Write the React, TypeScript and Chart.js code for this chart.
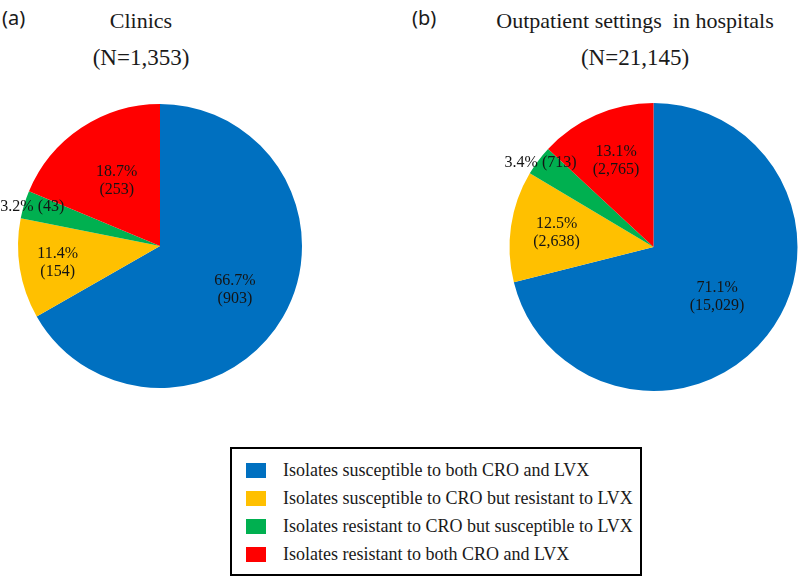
import React, { useEffect, useRef } from "react";
import { Chart, registerables } from "chart.js";

Chart.register(...registerables);

// ---------- data ----------
const CATEGORIES = [
  "Isolates susceptible to both CRO and LVX",
  "Isolates susceptible to CRO but resistant to LVX",
  "Isolates resistant to CRO but susceptible to LVX",
  "Isolates resistant to both CRO and LVX",
];
const CLINIC_COUNTS = [903, 154, 43, 253];
const HOSPITAL_COUNTS = [15029, 2638, 713, 2765];
const PANEL_TAGS = ["(a)", "(b)"];
const PANEL_TITLES = ["Clinics", "Outpatient settings\u00A0 in hospitals"];

// ---------- styles ----------
const COLORS = ["#0070C0", "#FFC000", "#00B050", "#FF0000"];
const SERIF = '"Liberation Serif", "Times New Roman", serif';
const SANS = '"Noto Sans", "DejaVu Sans", sans-serif';
// radial position of each slice's label, as a fraction of the radius
const CLINIC_LABEL_R = [0.61, 0.73, 0.94, 0.55];
const HOSPITAL_LABEL_R = [0.56, 0.68, 0.98, 0.65];

const fmt = (n: number) => n.toLocaleString("en-US");

function makeLabelPlugin(radii: number[]) {
  return {
    id: "sliceLabels",
    afterDatasetsDraw(chart: any) {
      const meta = chart.getDatasetMeta(0);
      const data = chart.data.datasets[0].data as number[];
      const total = data.reduce((a, b) => a + b, 0);
      const ctx = chart.ctx as CanvasRenderingContext2D;
      ctx.save();
      ctx.font = `16px ${SERIF}`;
      ctx.fillStyle = "#141414";
      ctx.textAlign = "center";
      ctx.textBaseline = "middle";
      meta.data.forEach((arc: any, i: number) => {
        const p = arc.getProps(["x", "y", "startAngle", "endAngle", "outerRadius"], true);
        const mid = (p.startAngle + p.endAngle) / 2;
        const r = p.outerRadius * radii[i];
        const lx = p.x + Math.cos(mid) * r;
        const ly = p.y + Math.sin(mid) * r;
        const share = data[i] / total;
        const pct = (share * 100).toFixed(1) + "%";
        const cnt = "(" + fmt(data[i]) + ")";
        if (share < 0.05) {
          ctx.fillText(pct + " " + cnt, lx, ly);
        } else {
          ctx.fillText(pct, lx, ly - 9);
          ctx.fillText(cnt, lx, ly + 9);
        }
      });
      ctx.restore();
    },
  };
}

type PieProps = {
  counts: number[];
  radii: number[];
  left: number;
  top: number;
  width: number;
  height: number;
  padding: { left: number; right: number; top: number; bottom: number };
};

function PieCanvas({ counts, radii, left, top, width, height, padding }: PieProps) {
  const ref = useRef<HTMLCanvasElement | null>(null);
  useEffect(() => {
    if (!ref.current) return;
    const chart = new Chart(ref.current, {
      type: "pie",
      data: {
        labels: CATEGORIES,
        datasets: [
          {
            data: counts,
            backgroundColor: COLORS,
            borderWidth: 0,
          },
        ],
      },
      options: {
        responsive: false,
        animation: false,
        layout: { padding },
        plugins: {
          legend: { display: false },
          tooltip: { enabled: false },
          title: { display: false },
        },
      },
      plugins: [makeLabelPlugin(radii)],
    });
    return () => chart.destroy();
  }, []);
  return (
    <canvas
      ref={ref}
      width={width}
      height={height}
      style={{ position: "absolute", left, top, width, height }}
    />
  );
}

function CenteredText({ text, cx, cy, size }: { text: string; cx: number; cy: number; size: number }) {
  return (
    <div
      style={{
        position: "absolute",
        left: cx - 250,
        width: 500,
        top: cy - size / 2,
        height: size,
        lineHeight: `${size}px`,
        fontSize: size,
        fontFamily: SERIF,
        color: "#1a1a1a",
        textAlign: "center",
        whiteSpace: "pre",
      }}
    >
      {text}
    </div>
  );
}

function Tag({ text, x, cy }: { text: string; x: number; cy: number }) {
  return (
    <div
      style={{
        position: "absolute",
        left: x,
        top: cy - 12,
        height: 24,
        lineHeight: "24px",
        fontSize: 20,
        fontFamily: SANS,
        color: "#1a1a1a",
        whiteSpace: "pre",
      }}
    >
      {text}
    </div>
  );
}

export default function App() {
  const total = (a: number[]) => a.reduce((s, v) => s + v, 0);
  return (
    <div
      style={{
        position: "absolute",
        left: 0,
        top: 0,
        width: 800,
        height: 586,
        background: "#fff",
        overflow: "hidden",
      }}
    >
      <Tag text={PANEL_TAGS[0]} x={2} cy={18} />
      <Tag text={PANEL_TAGS[1]} x={412} cy={18} />
      <CenteredText text={PANEL_TITLES[0]} cx={141} cy={21} size={22} />
      <CenteredText text={`(N=${fmt(total(CLINIC_COUNTS))})`} cx={141} cy={57} size={23} />
      <CenteredText text={PANEL_TITLES[1]} cx={635} cy={21} size={22} />
      <CenteredText text={`(N=${fmt(total(HOSPITAL_COUNTS))})`} cx={635} cy={57} size={23} />

      <PieCanvas
        counts={CLINIC_COUNTS}
        radii={CLINIC_LABEL_R}
        left={0}
        top={90}
        width={320}
        height={310}
        padding={{ left: 18, right: 18, top: 14, bottom: 12 }}
      />
      <PieCanvas
        counts={HOSPITAL_COUNTS}
        radii={HOSPITAL_LABEL_R}
        left={490}
        top={90}
        width={310}
        height={310}
        padding={{ left: 19.5, right: 2.5, top: 13, bottom: 9 }}
      />

      <div
        style={{
          position: "absolute",
          left: 230,
          top: 447,
          width: 408,
          height: 125,
          border: "2px solid #000",
          boxSizing: "content-box",
        }}
      >
        {CATEGORIES.map((c, i) => (
          <div
            key={c}
            style={{
              position: "absolute",
              left: 14,
              top: 7 + i * 28.3,
              height: 28,
              display: "flex",
              alignItems: "center",
              whiteSpace: "nowrap",
            }}
          >
            <span
              style={{
                display: "inline-block",
                width: 20,
                height: 15,
                background: COLORS[i],
                marginRight: 17,
              }}
            />
            <span style={{ fontFamily: SERIF, fontSize: 18, color: "#1a1a1a" }}>{c}</span>
          </div>
        ))}
      </div>
    </div>
  );
}
